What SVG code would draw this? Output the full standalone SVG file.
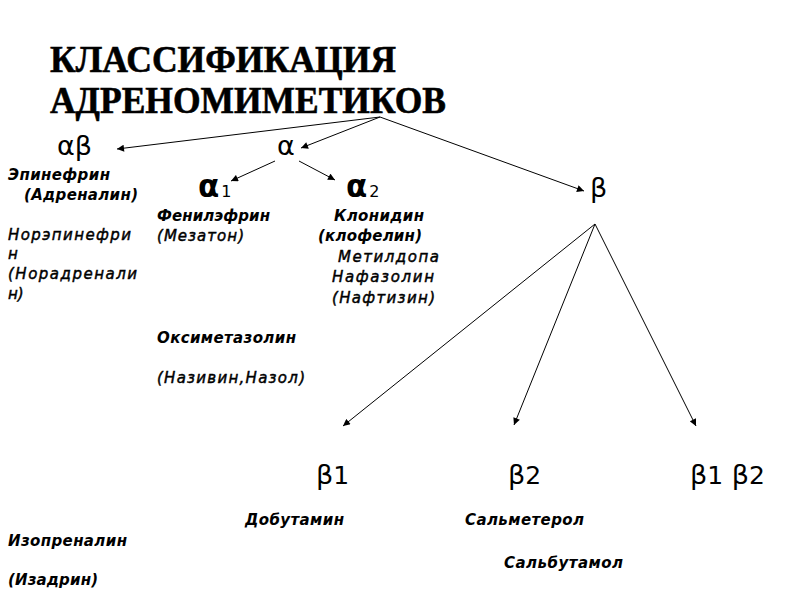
<svg xmlns="http://www.w3.org/2000/svg" width="800" height="600" viewBox="0 0 800 600">
<style>
.title{font-family:"Liberation Serif","Times New Roman",serif;font-weight:bold;font-size:38px;fill:#000;stroke:#000;stroke-width:0.6}
.gr{font-family:"DejaVu Sans",sans-serif;font-size:27px;fill:#000}
.sub{font-family:"DejaVu Sans",sans-serif;font-size:16px;fill:#000}
.d{font-family:"DejaVu Sans",sans-serif;font-style:italic;font-weight:bold;font-size:15px;fill:#000}
.l{font-family:"DejaVu Sans",sans-serif;font-style:italic;font-weight:normal;font-size:15px;fill:#000;stroke:#000;stroke-width:0.45}
.c{stroke:#000;stroke-width:1;fill:none;marker-end:url(#ah)}
</style>
<defs>
<marker id="ah" viewBox="0 0 10 10" refX="10" refY="5" markerWidth="8" markerHeight="7" markerUnits="userSpaceOnUse" orient="auto">
<path d="M0,0 L10,5 L0,10 z" fill="#000"/>
</marker>
</defs>
<rect width="800" height="600" fill="#fff"/>
<g id="title">
<text class="title" x="50" y="72" textLength="346" lengthAdjust="spacingAndGlyphs">КЛАССИФИКАЦИЯ</text>
<text class="title" x="50" y="113" textLength="396" lengthAdjust="spacingAndGlyphs">АДРЕНОМИМЕТИКОВ</text>
</g>
<g id="connectors">
<line class="c" x1="380" y1="117" x2="117" y2="149"/>
<line class="c" x1="380" y1="117" x2="301" y2="148"/>
<line class="c" x1="380" y1="117" x2="584" y2="191"/>
<line class="c" x1="275" y1="161" x2="231" y2="181"/>
<line class="c" x1="299" y1="161" x2="335" y2="180"/>
<line class="c" x1="595" y1="224" x2="343" y2="426"/>
<line class="c" x1="595" y1="224" x2="514" y2="425"/>
<line class="c" x1="595" y1="224" x2="696" y2="426"/>
</g>
<g id="alphabeta">
<text class="gr" x="57" y="155">αβ</text>
<text class="d" x="8" y="180" textLength="102" lengthAdjust="spacing">Эпинефрин</text>
<text class="d" x="24" y="200" textLength="114" lengthAdjust="spacing">(Адреналин)</text>
<text class="l" x="8" y="240" textLength="123" lengthAdjust="spacing">Норэпинефри</text>
<text class="l" x="8" y="259">н</text>
<text class="l" x="8" y="279" textLength="129" lengthAdjust="spacing">(Норадренали</text>
<text class="l" x="8" y="299">н)</text>
</g>
<g id="alpha">
<text class="gr" x="277" y="155">α</text>
</g>
<g id="alpha1">
<text x="198" y="197"><tspan class="gr" style="font-weight:bold;font-size:31px">α</tspan><tspan class="sub" dx="2">1</tspan></text>
<text class="d" x="157" y="221" textLength="113" lengthAdjust="spacing">Фенилэфрин</text>
<text class="l" x="157" y="241" textLength="87" lengthAdjust="spacing">(Мезатон)</text>
<text class="d" x="157" y="343" textLength="139" lengthAdjust="spacing">Оксиметазолин</text>
<text class="l" x="157" y="383" textLength="148" lengthAdjust="spacing">(Називин,Назол)</text>
</g>
<g id="alpha2">
<text x="346" y="197"><tspan class="gr" style="font-weight:bold;font-size:31px">α</tspan><tspan class="sub" dx="2">2</tspan></text>
<text class="d" x="334" y="221" textLength="90" lengthAdjust="spacing">Клонидин</text>
<text class="d" x="318" y="241" textLength="104" lengthAdjust="spacing">(клофелин)</text>
<text class="l" x="338" y="262" textLength="101" lengthAdjust="spacing">Метилдопа</text>
<text class="l" x="332" y="282" textLength="102" lengthAdjust="spacing">Нафазолин</text>
<text class="l" x="332" y="303" textLength="103" lengthAdjust="spacing">(Нафтизин)</text>
</g>
<g id="beta">
<text class="gr" x="590" y="197">β</text>
</g>
<g id="beta1">
<text class="gr" x="316" y="484">β<tspan style="font-size:25px">1</tspan></text>
<text class="d" x="245" y="525" textLength="99" lengthAdjust="spacing">Добутамин</text>
</g>
<g id="beta2">
<text class="gr" x="508" y="484">β<tspan style="font-size:25px">2</tspan></text>
<text class="d" x="465" y="525" textLength="119" lengthAdjust="spacing">Сальметерол</text>
<text class="d" x="504" y="568" textLength="119" lengthAdjust="spacing">Сальбутамол</text>
</g>
<g id="beta12">
<text class="gr" x="690" y="484">β<tspan style="font-size:25px">1</tspan> β<tspan style="font-size:25px">2</tspan></text>
<text class="d" x="8" y="546" textLength="119" lengthAdjust="spacing">Изопреналин</text>
<text class="d" x="8" y="585" textLength="90" lengthAdjust="spacing">(Изадрин)</text>
</g>
</svg>
